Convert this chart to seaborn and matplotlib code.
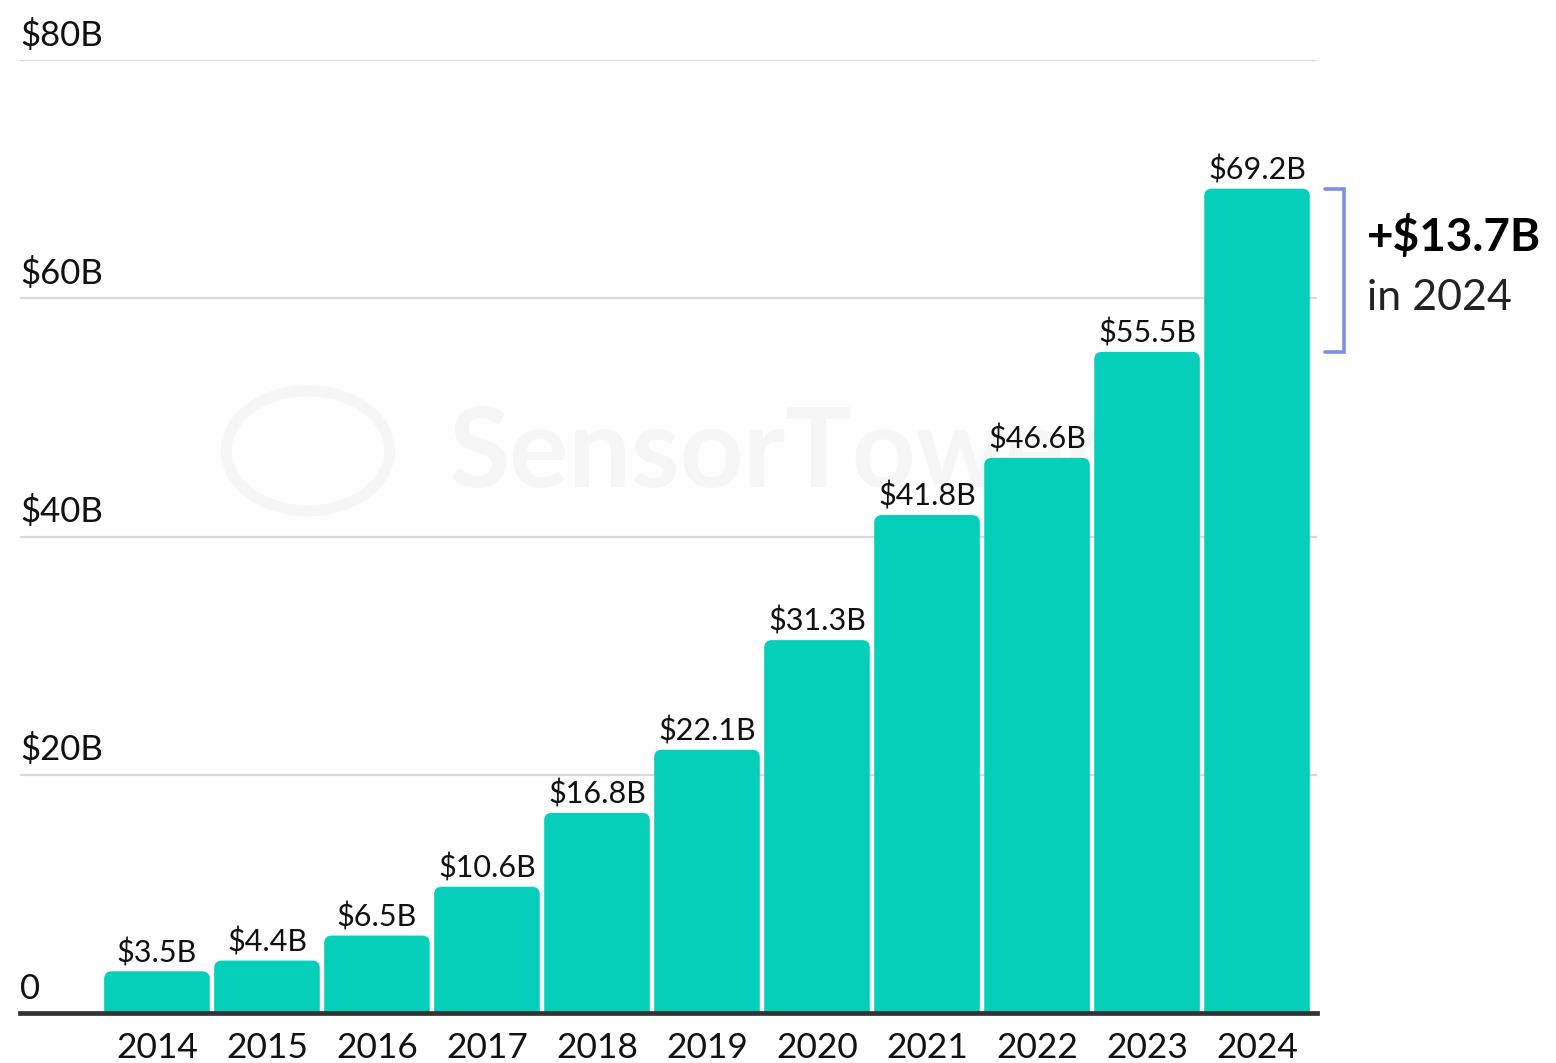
import matplotlib

matplotlib.use("Agg")

import matplotlib.pyplot as plt
import matplotlib.transforms as mtransforms
from matplotlib.patches import FancyBboxPatch
import pandas as pd
import seaborn as sns


YEARS = ["2014", "2015", "2016", "2017", "2018", "2019",
         "2020", "2021", "2022", "2023", "2024"]
REVENUE = [3.5, 4.4, 6.5, 10.6, 16.8, 22.1, 31.3, 41.8, 46.6, 55.5, 69.2]
Y_TICKS = [0, 20, 40, 60, 80]
Y_TICK_LABELS = ["0", "$20B", "$40B", "$60B", "$80B"]
GROWTH_LABEL = "+$13.7B"
GROWTH_NOTE = "in 2024"

BAR_COLOR = "#05CFB9"
GRID_COLOR = "#D9D9D9"
BRACKET_COLOR = "#7C8FE6"


def main() -> None:
    sns.set_theme(style="white")
    plt.rcParams["font.family"] = ["Lato", "DejaVu Sans"]

    df = pd.DataFrame({"year": YEARS, "revenue": REVENUE})

    fig = plt.figure(figsize=(15.56, 10.63), dpi=100)
    ax = fig.add_axes([20 / 1556, 50 / 1063, 1297 / 1556, 953 / 1063])

    for t in Y_TICKS[1:]:
        ax.axhline(t, color=GRID_COLOR, lw=1.6, zorder=0)

    # faint watermark
    ax.text(0.33, 0.585, "SensorTower", transform=ax.transAxes,
            fontsize=80, fontweight="bold", color="#F6F6F6",
            ha="left", va="center", zorder=0.5)
    circ = plt.Circle((0.222, 0.59), 0.063, transform=ax.transAxes,
                      fill=False, lw=8, color="#F6F6F6", zorder=0.5)
    ax.add_patch(circ)

    sns.barplot(data=df, x="year", y="revenue", color=BAR_COLOR,
                width=0.96, saturation=1, ax=ax, zorder=2)

    # swap plain rectangles for bars with rounded top corners
    for patch in list(ax.patches):
        if type(patch) is plt.Rectangle and patch.get_height() > 0:
            x, w, h = patch.get_x(), patch.get_width(), patch.get_height()
            patch.set_visible(False)
            rounded = FancyBboxPatch(
                (x, -2), w, h + 2,
                boxstyle="round,pad=0,rounding_size=0.07",
                mutation_aspect=9.2, facecolor=BAR_COLOR,
                edgecolor="none", zorder=2,
            )
            ax.add_patch(rounded)

    for i, v in enumerate(REVENUE):
        ax.annotate(f"${v}B", (i, v), xytext=(0, 3),
                    textcoords="offset points", ha="center", va="bottom",
                    fontsize=22, color="#111111")

    ax.set_xlim(-1.245, 10.545)
    ax.set_ylim(0, 80)
    ax.set_yticks([])
    ax.set_xlabel("")
    ax.set_ylabel("")
    ax.tick_params(axis="x", length=0, pad=14, labelsize=25.5, labelcolor="#111111")

    trans = mtransforms.blended_transform_factory(ax.transAxes, ax.transData)
    for t, lab in zip(Y_TICKS, Y_TICK_LABELS):
        ax.annotate(lab, (0, t), xycoords=trans, xytext=(0, 6),
                    textcoords="offset points", ha="left", va="bottom",
                    fontsize=25, color="#111111")

    for side in ["top", "right", "left"]:
        ax.spines[side].set_visible(False)
    ax.spines["bottom"].set_color("#333333")
    ax.spines["bottom"].set_linewidth(3.4)
    ax.spines["bottom"].set_zorder(3)

    # bracket for 2023 -> 2024 growth
    lo, hi = REVENUE[-2], REVENUE[-1]
    x0, x1 = 10.62, 10.79
    ax.plot([x0, x1, x1, x0], [hi, hi, lo, lo], color=BRACKET_COLOR,
            lw=2.6, clip_on=False, solid_joinstyle="miter")
    ax.text(11.0, (lo + hi) / 2 + 2.8, GROWTH_LABEL, fontsize=33,
            fontweight="bold", color="#000000", ha="left", va="center",
            clip_on=False)
    ax.text(11.0, (lo + hi) / 2 - 2.3, GROWTH_NOTE, fontsize=31,
            fontweight="normal", color="#222222", ha="left", va="center",
            clip_on=False)

    fig.savefig("out.png", dpi=100)


if __name__ == "__main__":
    main()
